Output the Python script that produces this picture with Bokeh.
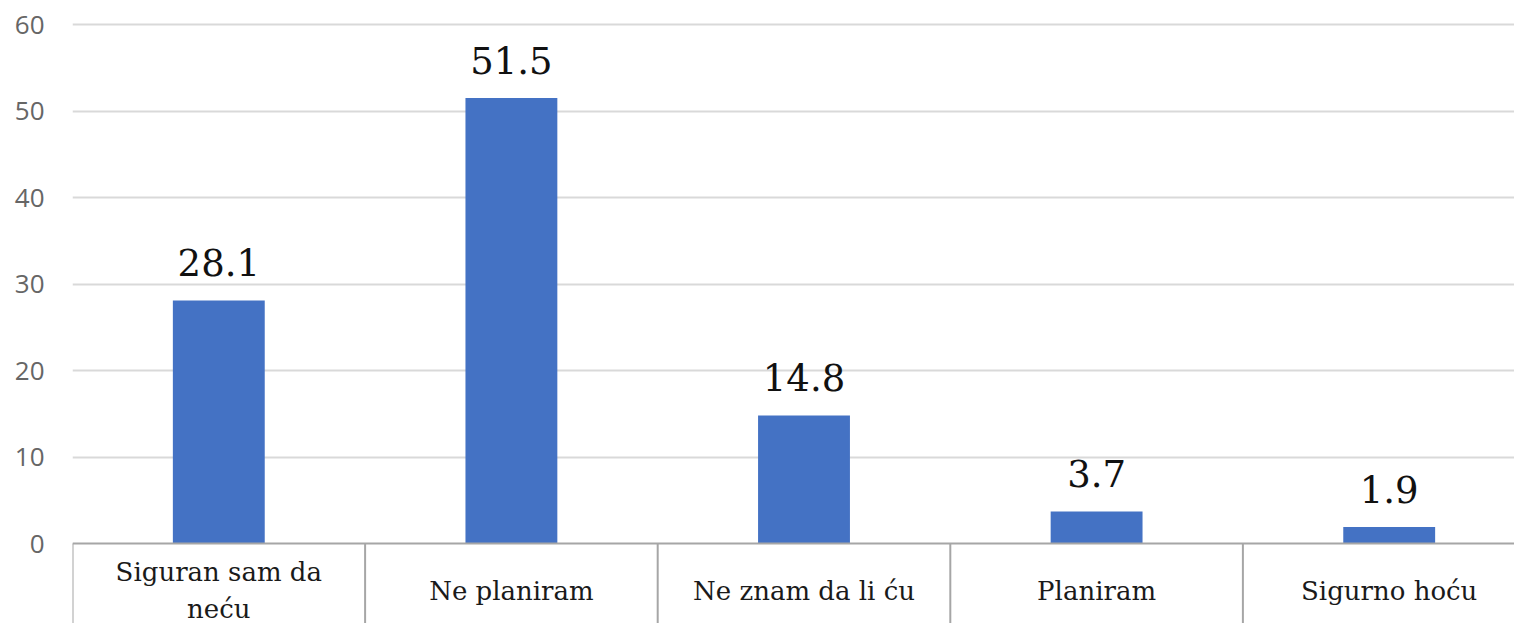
from bokeh.plotting import figure
from bokeh.models import Range1d, FixedTicker, ColumnDataSource, LabelSet
from bokeh.embed import file_html
from bokeh.resources import INLINE
from bokeh.core.properties import value

categories = ["Siguran sam da\nneću", "Ne planiram", "Ne znam da li ću", "Planiram", "Sigurno hoću"]
values = [28.1, 51.5, 14.8, 3.7, 1.9]
value_labels = ["28.1", "51.5", "14.8", "3.7", "1.9"]
y_ticks = [0, 10, 20, 30, 40, 50, 60]

# layout constants (pixels)
W, H = 1514, 623
LEFT, TOP = 72, 18
frame_w = W - LEFT
frame_h = H - TOP
cat_px = 292.6
px_per_unit = 519 / 60.0
x_end = frame_w / cat_px
y_end = 60 + (24 - TOP) / px_per_unit
y_start = y_end - frame_h / px_per_unit
label_y = -47 / px_per_unit

p = figure(width=W, height=H, output_backend="svg", toolbar_location=None,
           x_range=Range1d(0, x_end), y_range=Range1d(y_start, y_end),
           min_border_left=LEFT, min_border_right=0, min_border_top=TOP, min_border_bottom=0)
p.outline_line_color = None
p.background_fill_color = "white"
p.border_fill_color = "white"
p.xaxis.visible = False
p.xgrid.visible = False

p.yaxis.ticker = FixedTicker(ticks=y_ticks)
p.yaxis.axis_line_color = None
p.yaxis.major_tick_line_color = None
p.yaxis.minor_tick_line_color = None
p.yaxis.major_label_standoff = 22
p.yaxis.major_label_text_font = "Open Sans"
p.yaxis.major_label_text_font_size = "26px"
p.yaxis.major_label_text_color = "#666666"
p.ygrid.ticker = FixedTicker(ticks=y_ticks[1:])
p.ygrid.grid_line_color = "#d9d9d9"
p.ygrid.grid_line_width = 2

n = len(categories)
centers = [i + 0.5 for i in range(n)]
src = ColumnDataSource(dict(x=centers, top=values, lab=value_labels, cat=categories))

p.vbar(x="x", top="top", bottom=0, width=0.314, source=src,
       fill_color="#4472C4", line_color=None)

# category axis line and separators
p.segment(x0=[0], y0=[0], x1=[n], y1=[0], line_color="#a6a6a6", line_width=2)
p.segment(x0=list(range(n + 1)), y0=[0] * (n + 1), x1=list(range(n + 1)),
          y1=[y_start] * (n + 1), line_color="#a6a6a6", line_width=2)

p.text(x="x", y=label_y, text="cat", source=src, text_align="center",
       text_baseline="middle", text_font=value("DejaVu Serif"),
       text_font_size="26px", text_color="#1a1a1a", text_line_height=1.25)

labels = LabelSet(x="x", y="top", text="lab", source=src, text_align="center",
                  text_baseline="alphabetic", y_offset=24,
                  text_font=value("DejaVu Serif"), text_font_size="37px",
                  text_color="#111111")
p.add_layout(labels)

open("out.html", "w").write(file_html(p, INLINE))
